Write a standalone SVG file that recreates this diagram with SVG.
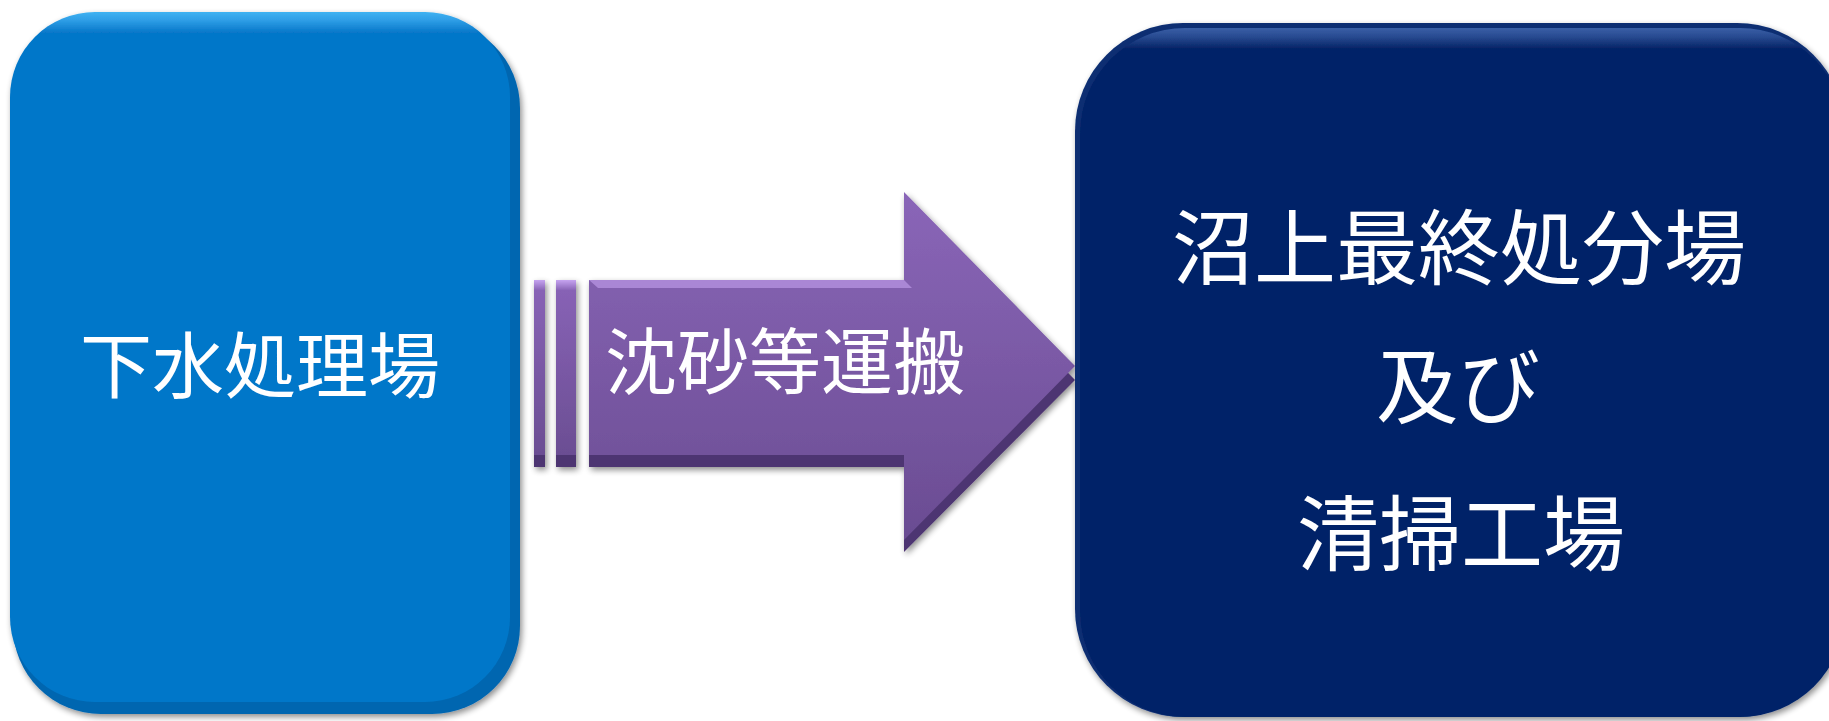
<svg xmlns="http://www.w3.org/2000/svg" width="1829" height="721" viewBox="0 0 1829 721">
<defs>
<style>
.lbl{font-family:"Noto Sans CJK JP","Noto Sans CJK SC",sans-serif;fill:#ffffff;text-anchor:middle;dominant-baseline:central}
</style>
<filter id="sh" x="-10%" y="-10%" width="125%" height="125%">
<feGaussianBlur in="SourceAlpha" stdDeviation="3"/>
<feOffset dx="2" dy="3" result="b"/>
<feComponentTransfer><feFuncA type="linear" slope="0.45"/></feComponentTransfer>
<feMerge><feMergeNode/><feMergeNode in="SourceGraphic"/></feMerge>
</filter>
<linearGradient id="blueTop" x1="0" y1="0" x2="0" y2="1">
<stop offset="0" stop-color="#3FB2F2"/>
<stop offset="0.012" stop-color="#2E9EE6"/>
<stop offset="0.03" stop-color="#0677C9"/>
<stop offset="1" stop-color="#0677C9"/>
</linearGradient>
<linearGradient id="navyTop" x1="0" y1="0" x2="0" y2="1">
<stop offset="0" stop-color="#3A5FA6"/>
<stop offset="0.012" stop-color="#294C92"/>
<stop offset="0.03" stop-color="#052467"/>
<stop offset="1" stop-color="#052467"/>
</linearGradient>
<linearGradient id="purp" x1="0" y1="0" x2="0" y2="1">
<stop offset="0" stop-color="#C6A4F0"/>
<stop offset="0.06" stop-color="#8762B5"/>
<stop offset="1" stop-color="#6B4E93"/>
</linearGradient>
<linearGradient id="purpHead" x1="0" y1="0" x2="0" y2="1">
<stop offset="0" stop-color="#8A66B8"/>
<stop offset="1" stop-color="#6A4C92"/>
</linearGradient>
</defs>

<g id="node-gesui" filter="url(#sh)">
<rect x="13" y="20" width="507" height="694" rx="88" ry="88" fill="#0566B0"/>
<rect x="10" y="12" width="500" height="690" rx="85" ry="85" fill="url(#blueTop)"/>
<text class="lbl" x="260" y="360" font-size="72">下水処理場</text>
</g>

<g id="connectors">
<g id="arrow" filter="url(#sh)">
<rect x="534" y="292" width="11" height="175" fill="#4E3672"/>
<rect x="556" y="292" width="20" height="175" fill="#4E3672"/>
<polygon points="589,292 904,292 904,204 1075,380 904,552 904,467 589,467" fill="#4E3672"/>
<rect x="534" y="280" width="11" height="175" fill="url(#purp)"/>
<rect x="556" y="280" width="20" height="175" fill="url(#purp)"/>
<polygon points="589,280 904,280 904,192 1075,366 904,540 904,455 589,455" fill="url(#purpHead)"/>
<polygon points="589,280 904,280 912,288 598,288" fill="#C4A2EE" opacity="0.6"/>
<text class="lbl" x="785" y="356" font-size="72">沈砂等運搬</text>
</g>
</g>

<g id="node-numagami" filter="url(#sh)">
<rect x="1075" y="23" width="770" height="694" rx="108" ry="108" fill="#0A2D72"/>
<rect x="1080" y="28" width="765" height="689" rx="105" ry="105" fill="url(#navyTop)"/>
<text class="lbl" x="1459" y="242" font-size="82">沼上最終処分場</text>
<text class="lbl" x="1458" y="381" font-size="82">及び</text>
<text class="lbl" x="1461" y="528" font-size="82">清掃工場</text>
</g>
</svg>
